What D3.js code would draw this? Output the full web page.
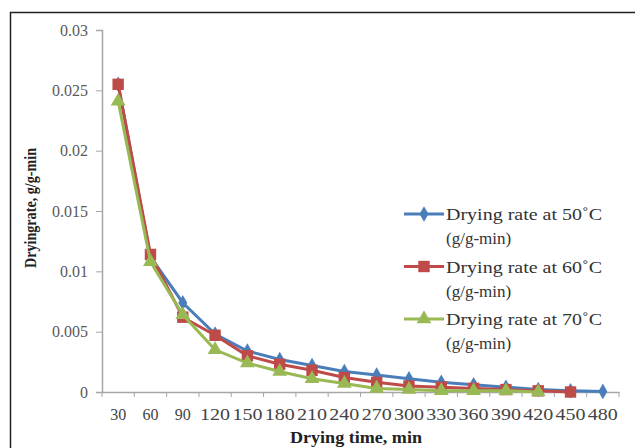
<!DOCTYPE html>
<html>
<head>
<meta charset="utf-8">
<script src="https://cdn.jsdelivr.net/npm/d3@7"></script>
<style>
  body { margin: 0; background: #fff; }
  text { font-family: "Liberation Serif", "DejaVu Serif", serif; }
</style>
</head>
<body>
<div id="chart"></div>
<script>
const times = [30, 60, 90, 120, 150, 180, 210, 240, 270, 300, 330, 360, 390, 420, 450, 480];
const rate50 = [0.0255, 0.0112, 0.0074, 0.0048, 0.0034, 0.0027, 0.0022, 0.0017, 0.0014, 0.0011, 0.0008, 0.0006, 0.0004, 0.0002, 0.0001, 0.00005];
const rate60 = [0.0255, 0.0114, 0.0062, 0.0047, 0.0030, 0.0023, 0.0018, 0.0012, 0.0008, 0.0005, 0.0004, 0.0003, 0.0002, 0.0001, 0.0000];
const rate70 = [0.0241, 0.0108, 0.0064, 0.0035, 0.0024, 0.0017, 0.0011, 0.0007, 0.0003, 0.0002, 0.0001, 0.0001, 0.0001, 0.0000];
const yTicks = [0, 0.005, 0.01, 0.015, 0.02, 0.025, 0.03];
const seriesNames = ["Drying rate at 50\u02DAC", "Drying rate at 60\u02DAC", "Drying rate at 70\u02DAC"];

const width = 635, height = 448;
const margin = {left: 102, top: 30, right: 16, bottom: 56};

const svg = d3.select("#chart").append("svg")
  .attr("width", width)
  .attr("height", height);

// outer frame (right and bottom edges fall outside the picture)
svg.append("rect")
  .attr("x", 10.5).attr("y", 12.5)
  .attr("width", 640).attr("height", 450)
  .attr("fill", "none").attr("stroke", "#222").attr("stroke-width", 1.5);

const x = d3.scaleBand()
  .domain(times)
  .range([margin.left, width - margin.right]);

const y = d3.scaleLinear()
  .domain([0, 0.03])
  .range([height - margin.bottom, margin.top]);

// y axis
const yAxis = svg.append("g")
  .attr("transform", `translate(${margin.left},0)`)
  .call(d3.axisLeft(y).tickValues(yTicks).tickSize(6).tickPadding(8)
    .tickFormat(d => d === 0 ? "0" : String(+d.toFixed(3))));
yAxis.select(".domain").attr("stroke", "#a6a6a6").attr("stroke-width", 1.5);
yAxis.selectAll(".tick line").attr("stroke", "#a6a6a6");
yAxis.selectAll(".tick text").attr("fill", "#5a5a5a").style("font-size", "16px");

// x axis (category style, ticks between categories)
const xAxis = svg.append("g")
  .attr("transform", `translate(0,${height - margin.bottom})`)
  .call(d3.axisBottom(x).tickSize(0).tickPadding(17));
xAxis.select(".domain").attr("stroke", "#a6a6a6").attr("stroke-width", 1.5);
xAxis.selectAll(".tick text")
  .attr("fill", "#444")
  .style("font-size", "16px")
  .each(function(d) {
    if (String(d).length > 2) {
      d3.select(this).attr("textLength", 30).attr("lengthAdjust", "spacingAndGlyphs");
    }
  });
svg.append("g").selectAll("line")
  .data(times.concat([null]))
  .join("line")
  .attr("x1", (d, i) => margin.left + i * x.step())
  .attr("x2", (d, i) => margin.left + i * x.step())
  .attr("y1", height - margin.bottom)
  .attr("y2", height - margin.bottom + 5)
  .attr("stroke", "#a6a6a6");

// axis titles
svg.append("text")
  .attr("x", 356).attr("y", 443)
  .attr("text-anchor", "middle")
  .attr("font-weight", "bold")
  .attr("font-size", 17)
  .attr("textLength", 132)
  .attr("lengthAdjust", "spacingAndGlyphs")
  .attr("fill", "#222")
  .text("Drying time, min");

svg.append("text")
  .attr("transform", "translate(36,208) rotate(-90)")
  .attr("text-anchor", "middle")
  .attr("font-weight", "bold")
  .attr("font-size", 17)
  .attr("textLength", 120)
  .attr("lengthAdjust", "spacingAndGlyphs")
  .attr("fill", "#222")
  .text("Dryingrate, g/g-min");

const series = [
  {name: seriesNames[0], values: rate50, color: "#4a7ebb", marker: "diamond"},
  {name: seriesNames[1], values: rate60, color: "#be4b48", marker: "square"},
  {name: seriesNames[2], values: rate70, color: "#98b954", marker: "triangle"}
];

const symbolType = {diamond: d3.symbolDiamond, square: d3.symbolSquare, triangle: d3.symbolTriangle};
const symbolSize = {diamond: 70, square: 130, triangle: 95};

const line = d3.line()
  .x((d, i) => x(times[i]) + x.bandwidth() / 2)
  .y(d => y(d));

series.forEach(s => {
  svg.append("path")
    .datum(s.values)
    .attr("d", line)
    .attr("fill", "none")
    .attr("stroke", s.color)
    .attr("stroke-width", 3);
  svg.append("g").selectAll("path")
    .data(s.values)
    .join("path")
    .attr("transform", (d, i) => `translate(${x(times[i]) + x.bandwidth() / 2},${y(d)})`)
    .attr("d", d3.symbol().type(symbolType[s.marker]).size(symbolSize[s.marker]))
    .attr("fill", s.color);
});

// legend
const legend = svg.append("g").attr("transform", "translate(404,214)");
series.forEach((s, i) => {
  const g = legend.append("g").attr("transform", `translate(0,${i * 52.5})`);
  g.append("line")
    .attr("x1", 0).attr("x2", 40)
    .attr("stroke", s.color).attr("stroke-width", 3);
  g.append("path")
    .attr("transform", "translate(20,0)")
    .attr("d", d3.symbol().type(symbolType[s.marker]).size(symbolSize[s.marker]))
    .attr("fill", s.color);
  g.append("text")
    .attr("x", 42).attr("y", 6)
    .attr("font-size", 17)
    .attr("textLength", 156)
    .attr("lengthAdjust", "spacingAndGlyphs")
    .attr("fill", "#333")
    .text(s.name);
  g.append("text")
    .attr("x", 42).attr("y", 30)
    .attr("font-size", 17)
    .attr("fill", "#333")
    .text("(g/g-min)");
});
</script>
</body>
</html>
